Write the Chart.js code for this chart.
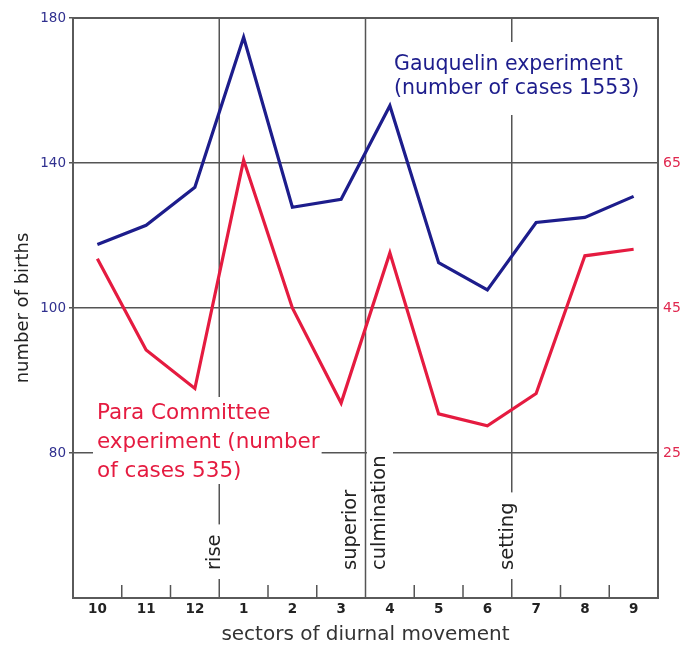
<!DOCTYPE html>
<html><head><meta charset="utf-8">
<script src="https://cdn.jsdelivr.net/npm/chart.js@4/dist/chart.umd.min.js"></script>
<style>html,body{margin:0;padding:0;background:#fff;}canvas{display:block;}</style>
</head><body>
<canvas id="c" width="683" height="649"></canvas>
<script>
// ---- data ----
const sectors = ['10','11','12','1','2','3','4','5','6','7','8','9'];
const gauquelin = [117.5, 122.8, 133.3, 174.7, 127.8, 130, 155.8, 112.5, 105, 123.6, 125, 130.8];
const paraCommittee = [51.8, 39.2, 33.9, 65.4, 45, 31.9, 52.6, 30.4, 28.75, 33.2, 52.2, 53.1];
const leftTicks = [20, 60, 100, 140, 180];
const leftTickLabels = ['', '80', '100', '140', '180'];
const rightTicks = [5, 25, 45, 65, 85];
const rightTickLabels = ['', '25', '45', '65', ''];
const phaseMarkers = [
  {after: '12', lines: ['rise']},
  {after: '3', lines: ['superior', 'culmination']},
  {after: '6', lines: ['setting']}
];
const gauquelinLabel = ['Gauquelin experiment', '(number of cases 1553)'];
const paraLabel = ['Para Committee', 'experiment (number', 'of cases 535)'];

// ---- styles ----
const FONT = "'DejaVu Sans',sans-serif";
const BLUE = '#1d1d8c';
const RED = '#e51b40';
const GRID = '#555';

function textBlock(ctx, lines, x, b1, lh, font, color, box) {
  ctx.font = font;
  const w = Math.max(...lines.map(l => ctx.measureText(l).width));
  const last = b1 + lh * (lines.length - 1);
  ctx.fillStyle = '#fff';
  ctx.fillRect(x - box.l, b1 - box.t, w + box.l + box.r, last - b1 + box.t + box.b);
  ctx.fillStyle = color;
  ctx.textAlign = 'left';
  ctx.textBaseline = 'alphabetic';
  lines.forEach((l, i) => ctx.fillText(l, x, b1 + i * lh));
}

const overlay = {
  id: 'overlay',
  beforeDatasetsDraw(chart) {
    const {ctx, chartArea: a, scales} = chart;
    const xs = scales.x;
    const bx = i => (xs.getPixelForValue(i) + xs.getPixelForValue(i + 1)) / 2;
    const special = {};
    phaseMarkers.forEach(m => { special[sectors.indexOf(m.after)] = m; });
    ctx.save();
    ctx.strokeStyle = GRID;
    ctx.lineWidth = 1.5;
    for (let i = 0; i < sectors.length - 1; i++) {
      const x = bx(i);
      ctx.beginPath();
      ctx.moveTo(x, special[i] ? a.top : a.bottom - 13);
      ctx.lineTo(x, a.bottom);
      ctx.stroke();
    }
    // phase labels (rotated, white-backed)
    ctx.font = '19.5px ' + FONT;
    Object.keys(special).forEach(k => {
      const m = special[k];
      const x0 = bx(+k);
      const n = m.lines.length;
      m.lines.forEach((t, j) => {
        const cx = x0 + (j - (n - 1) / 2) * 29 - (n === 1 ? 4 : 0);
        const w = ctx.measureText(t).width;
        ctx.save();
        ctx.translate(cx, a.bottom - 28);
        ctx.rotate(-Math.PI / 2);
        ctx.fillStyle = '#fff';
        ctx.fillRect(-9, -13, w + 19, 26);
        ctx.fillStyle = '#222';
        ctx.textAlign = 'left';
        ctx.textBaseline = 'middle';
        ctx.fillText(t, 0, 0);
        ctx.restore();
      });
    });
    // series labels
    textBlock(ctx, gauquelinLabel, a.left + 321, a.top + 52, 24, '20.5px ' + FONT, BLUE, {l: 4, r: 4, t: 28, b: 21});
    textBlock(ctx, paraLabel, a.left + 24, a.top + 401, 29, '21.5px ' + FONT, RED, {l: 4, r: 2, t: 22, b: 7});
    // frame
    ctx.strokeStyle = '#5a5a5a';
    ctx.lineWidth = 2;
    ctx.strokeRect(a.left, a.top, a.right - a.left, a.bottom - a.top);
    ctx.restore();
  }
};

new Chart(document.getElementById('c').getContext('2d'), {
  type: 'line',
  data: {
    labels: sectors,
    datasets: [
      {label: 'Gauquelin experiment', data: gauquelin, yAxisID: 'yL', borderColor: BLUE, borderWidth: 3.2, pointRadius: 0, tension: 0, fill: false},
      {label: 'Para Committee experiment', data: paraCommittee, yAxisID: 'yR', borderColor: RED, borderWidth: 3.2, pointRadius: 0, tension: 0, fill: false}
    ]
  },
  options: {
    responsive: false,
    animation: false,
    devicePixelRatio: 1,
    layout: {padding: {top: 18, left: 0, right: 0, bottom: 0}},
    plugins: {legend: {display: false}, tooltip: {enabled: false}},
    scales: {
      x: {
        type: 'category', offset: true,
        grid: {display: false, drawTicks: false},
        border: {display: false},
        ticks: {color: '#222', font: {family: FONT, size: 13.5, weight: 'bold'}, padding: 3, maxRotation: 0, autoSkip: false},
        title: {display: true, text: 'sectors of diurnal movement', color: '#333', font: {family: FONT, size: 20}, padding: {top: 0, bottom: 2}},
        afterFit(s) { s.height = 51; }
      },
      yL: {
        position: 'left', min: 20, max: 180,
        afterBuildTicks(s) { s.ticks = leftTicks.map(v => ({value: v})); },
        ticks: {callback: (v, i) => leftTickLabels[i], color: '#30308f', font: {family: FONT, size: 13.5}, padding: 3},
        grid: {color: c => (c.tick && c.tick.value === 20 ? 'rgba(0,0,0,0)' : GRID), lineWidth: 1.5, tickLength: 4},
        border: {display: false},
        title: {display: true, text: 'number of births', color: '#222', font: {family: FONT, size: 18}, padding: {top: 13, bottom: 0}},
        afterFit(s) { s.width = 73; }
      },
      yR: {
        position: 'right', min: 5, max: 85,
        afterBuildTicks(s) { s.ticks = rightTicks.map(v => ({value: v})); },
        ticks: {callback: (v, i) => rightTickLabels[i], color: '#e0284f', font: {family: FONT, size: 14}, padding: 5},
        grid: {display: false, drawTicks: false},
        border: {display: false},
        afterFit(s) { s.width = 25; }
      }
    }
  },
  plugins: [overlay]
});
</script>
</body></html>
